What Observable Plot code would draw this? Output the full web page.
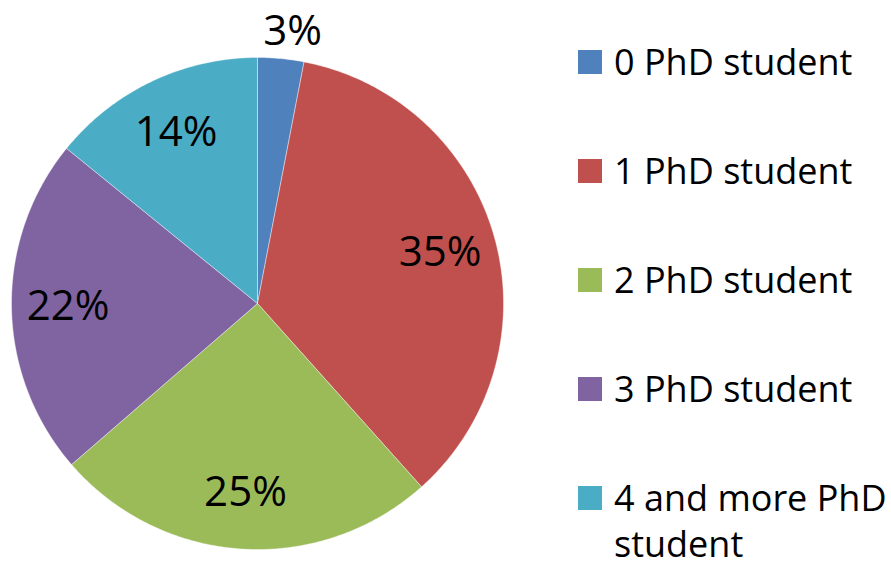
<!DOCTYPE html>
<html>
<head>
<meta charset="utf-8">
<script src="https://cdn.jsdelivr.net/npm/d3@7"></script>
<script src="https://cdn.jsdelivr.net/npm/@observablehq/plot@0.6"></script>
<style>
  html, body { margin: 0; padding: 0; background: #fff; }
  #wrap { position: relative; width: 891px; height: 569px; overflow: hidden; }
  #legend { position: absolute; left: 578px; top: 39px; font-family: "Open Sans", sans-serif; font-size: 36px; line-height: 46px; color: #000; }
  .item { display: flex; align-items: flex-start; margin-bottom: 63px; }
  .sw { width: 24px; height: 24px; margin-top: 11px; margin-right: 12px; flex: none; }
  .lab { width: 276px; }
</style>
</head>
<body>
<div id="wrap"></div>
<script>
const categories = ["0 PhD student", "1 PhD student", "2 PhD student", "3 PhD student", "4 and more PhD student"];
const shares = [3, 35, 25, 22, 14];
const colors = ["#4F81BD", "#C0504D", "#9BBB59", "#8064A2", "#4BACC6"];

const data = categories.map((c, i) => ({cat: c, value: shares[i]}));
const arcs = d3.pie().value(d => d.value).sort(null)(data);

// slice outlines in unit-circle coordinates (angle 0 at top, clockwise)
const pt = (a, r) => [r * Math.sin(a), r * Math.cos(a)];
const poly = [];
arcs.forEach(a => {
  poly.push({cat: a.data.cat, x: 0, y: 0});
  const n = Math.max(2, Math.ceil((a.endAngle - a.startAngle) / 0.01));
  for (let k = 0; k <= n; k++) {
    const t = a.startAngle + (a.endAngle - a.startAngle) * k / n;
    const [x, y] = pt(t, 1);
    poly.push({cat: a.data.cat, x, y});
  }
  poly.push({cat: a.data.cat, x: 0, y: 0});
});

const labels = arcs.map(a => {
  const mid = (a.startAngle + a.endAngle) / 2;
  const outside = a.data.value < 5;
  const [x, y] = pt(mid, outside ? 1.12 : 0.77);
  return {x, y, text: a.data.value + "%", outside};
});

const chart = Plot.plot({
  width: 891,
  height: 569,
  margin: 0,
  x: {domain: [-1, 1], range: [11, 503], axis: null},
  y: {domain: [-1, 1], range: [549, 57], axis: null},
  color: {domain: categories, range: colors},
  marks: [
    Plot.line(poly, {x: "x", y: "y", z: "cat", fill: "cat", stroke: "white", strokeOpacity: 0.5, strokeWidth: 0.8, curve: "linear"}),
    Plot.text(labels.filter(d => !d.outside), {x: "x", y: "y", text: "text", fontSize: 42, fontFamily: "Open Sans", fill: "black"}),
    Plot.text(labels.filter(d => d.outside), {x: "x", y: "y", text: "text", fontSize: 42, fontFamily: "Open Sans", fill: "black", dx: 9, dy: 2})
  ]
});

const wrap = document.getElementById("wrap");
wrap.appendChild(chart);

const legend = document.createElement("div");
legend.id = "legend";
categories.forEach((c, i) => {
  const it = document.createElement("div");
  it.className = "item";
  const sw = document.createElement("div");
  sw.className = "sw";
  sw.style.background = colors[i];
  const lab = document.createElement("div");
  lab.className = "lab";
  lab.textContent = c;
  it.appendChild(sw);
  it.appendChild(lab);
  legend.appendChild(it);
});
wrap.appendChild(legend);
</script>
</body>
</html>
